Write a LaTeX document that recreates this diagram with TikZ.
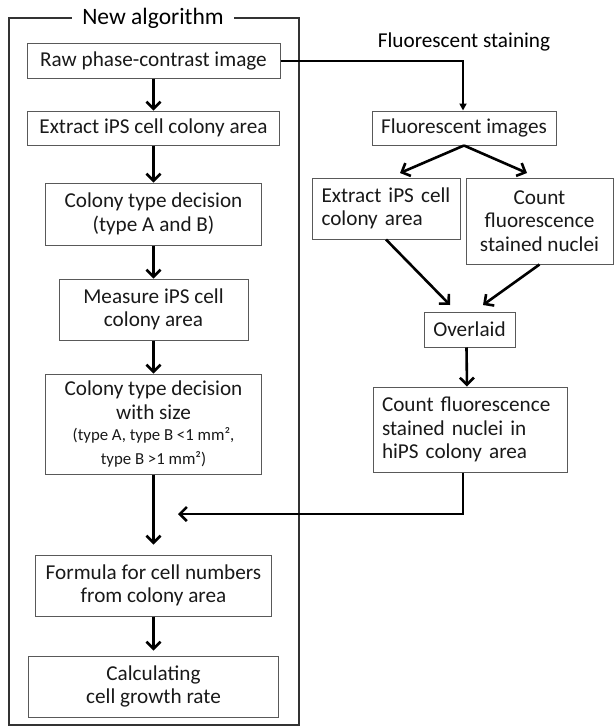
\documentclass[tikz,border=0pt]{standalone}
\usepackage{fontspec}
\setmainfont{Carlito}
\usetikzlibrary{arrows.meta}

\tikzset{
  box/.style={draw=black!65, line width=1pt, align=center, inner sep=0pt,
    font=\fontsize{21.2}{23.5}\selectfont, text=black!90},
  leftbox/.style={box, align=left, text width=#1},
  flow/.style={line width=2.6pt, -{Straight Barb[length=7pt,width=14pt,line width=2.6pt]}},
  feed/.style={line width=2pt, -{Triangle[length=7pt,width=7pt]}},
}
\newcommand\smallnote{\fontsize{16.8}{19.5}\selectfont}

\begin{document}
\begin{tikzpicture}[x=1pt,y=-1pt]
	\useasboundingbox (0,0) rectangle (614,726);

	% Frame of the new algorithm
	\draw[black!80, line width=1.3pt] (9,18) rectangle (299,725);
	\node[fill=white, inner xsep=10pt, inner ysep=2pt, font=\fontsize{23.5}{25}\selectfont] (title) at (153,18) {New algorithm};

	% Left column
	\node[box, minimum width=253, minimum height=35] (raw) at (153.5,60.5) {Raw phase-contrast image};
	\node[box, minimum width=252, minimum height=34] (extract) at (153.5,128) {Extract iPS cell colony area};
	\node[box, minimum width=216, minimum height=62] (ctype) at (153.5,214) {Colony type decision\\(type A and B)};
	\node[box, minimum width=189, minimum height=61] (measure) at (153.5,309.5) {Measure iPS cell\\colony area};
	\node[box, minimum width=216, minimum height=100] (csize) at (153.5,424) {Colony type decision\\with size\\[-2pt]
		\smallnote (type A, type B <1 mm²,\\ \smallnote type B >1 mm²)};
	\node[box, minimum width=236, minimum height=61] (formula) at (153.5,585.5) {Formula for cell numbers\\from colony area};
	\node[box, minimum width=250, minimum height=61] (growth) at (153.5,686.5) {Calculating\\cell growth rate};

	\draw[flow] (raw) -- (extract);
	\draw[flow] (extract) -- (ctype);
	\draw[flow] (ctype) -- (measure);
	\draw[flow] (measure) -- (csize);
	\draw[flow, shorten >=10pt] (csize) -- (formula);
	\draw[flow, shorten >=5pt] (formula) -- (growth);

	% Fluorescent staining
	\node[font=\fontsize{21.2}{23.5}\selectfont] (stain) at (464,42) {Fluorescent staining};
	\node[box, minimum width=184, minimum height=34] (fimg) at (464,128) {Fluorescent images};
	\node[leftbox=129pt, minimum width=148, minimum height=61] (fext) at (386,208.5) {Extract iPS cell\\colony area};
	\node[box, minimum width=147, minimum height=86] (fcount) at (539.5,221) {Count\\fluorescence\\stained nuclei};
	\node[box, minimum width=91, minimum height=35] (overlay) at (469.5,329.5) {Overlaid};
	\node[leftbox=176pt, minimum width=194, minimum height=85] (hips) at (470,429.5) {Count fluorescence\\stained nuclei in\\hiPS colony area};

	\coordinate (fextin) at (400,173);
	\coordinate (fcountin) at (527,173);
	\coordinate (ovlin-l) at (450,305);
	\coordinate (ovlin-r) at (483,305);
	\coordinate (join) at (178,514);

	\draw[feed] (raw.east) -| ([xshift=-1pt]fimg.north);
	\draw[flow] (fimg.south) -- (fextin);
	\draw[flow] (fimg.south) -- (fcountin);
	\draw[flow] (fext.south) -- (ovlin-l);
	\draw[flow] (fcount.south) -- (ovlin-r);
	\draw[flow] ([xshift=-3pt]overlay.south) -- ([xshift=-3pt]hips.north);
	\draw[flow] ([xshift=-7pt]hips.south) |- (join);
\end{tikzpicture}
\end{document}
